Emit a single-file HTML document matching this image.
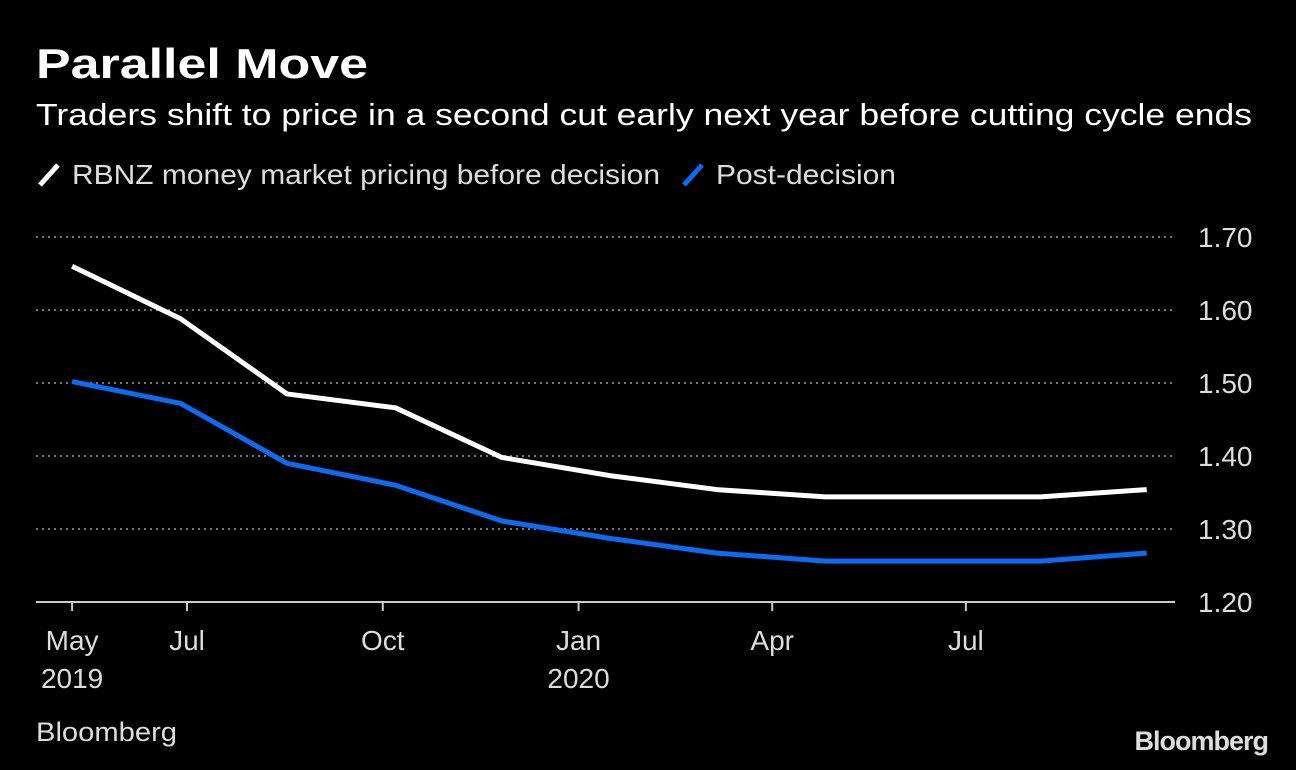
<!DOCTYPE html>
<html><head><meta charset="utf-8"><style>
body{margin:0;background:#000;width:1296px;height:770px;overflow:hidden;font-family:"Liberation Sans",sans-serif;color:#fff}
svg{position:absolute;left:0;top:0}
</style></head><body>
<svg id="c" width="1296" height="770">
<text x="36" y="78" font-size="42" font-weight="bold" fill="#fff" textLength="332" lengthAdjust="spacingAndGlyphs">Parallel Move</text>
<text x="36" y="125" font-size="31" fill="#fff" textLength="1216" lengthAdjust="spacingAndGlyphs">Traders shift to price in a second cut early next year before cutting cycle ends</text>
<g>
<line x1="40" y1="185" x2="58" y2="165" stroke="#fff" stroke-width="5"/>
<text x="72" y="184" font-size="28" fill="#ddd" textLength="588" lengthAdjust="spacingAndGlyphs">RBNZ money market pricing before decision</text>
<line x1="684" y1="185" x2="702" y2="165" stroke="#0b6cf2" stroke-width="5"/>
<text x="716" y="184" font-size="28" fill="#ddd" textLength="180" lengthAdjust="spacingAndGlyphs">Post-decision</text>
</g>
<text x="36" y="741" font-size="27" fill="#ddd" textLength="141" lengthAdjust="spacingAndGlyphs">Bloomberg</text>
<text x="1268" y="750" font-size="27" font-weight="bold" fill="#ddd" text-anchor="end" letter-spacing="-1">Bloomberg</text>
</svg>
<script>
const dates=["2019-05-08","2019-06-28","2019-08-17","2019-10-07","2019-11-26","2020-01-16","2020-03-06","2020-04-26","2020-06-15","2020-08-05","2020-09-24"];
const beforeVals=[1.66,1.588,1.485,1.466,1.398,1.373,1.354,1.344,1.344,1.344,1.354];
const postVals=[1.502,1.472,1.390,1.360,1.311,1.287,1.267,1.256,1.256,1.256,1.267];
const yTicks=[1.2,1.3,1.4,1.5,1.6,1.7];
const xTicks=[["2019-05-08","May","2019"],["2019-07-01","Jul",""],["2019-10-01","Oct",""],["2020-01-01","Jan","2020"],["2020-04-01","Apr",""],["2020-07-01","Jul",""]];
const svg=document.getElementById('c'),NS="http://www.w3.org/2000/svg";
const ref=Date.parse("2019-07-01");
const x=d=>187+(Date.parse(d)-ref)/864e5*2.128;
const y=v=>602-(v-1.2)*730;
function mk(t,a){const e=document.createElementNS(NS,t);for(const k in a)e.setAttribute(k,a[k]);svg.appendChild(e);return e;}
yTicks.forEach(v=>{
 const l=mk('line',{x1:36,x2:1175,y1:y(v),y2:y(v),stroke:v===1.2?'#ccc':'#777','stroke-width':2,'stroke-dasharray':v===1.2?'none':'2,4'});
 
 
 const t=mk('text',{x:1198,y:y(v)+10,'font-size':28,fill:'#ddd'});t.textContent=v.toFixed(2);
 
 
});
xTicks.forEach(([d,m,yr])=>{
 const X=x(d);
 const l=mk('line',{x1:X,x2:X,y1:602,y2:611,stroke:'#ccc','stroke-width':2});
 
 
 const t=mk('text',{x:X,y:650,'font-size':28,fill:'#ddd','text-anchor':'middle'});t.textContent=m;
 
 
 if(yr){const t2=mk('text',{x:X,y:688,'font-size':28,fill:'#ddd','text-anchor':'middle'});t2.textContent=yr;
 
 }
});
function line(vals,col,name){
 const p=mk('polyline',{points:vals.map((v,i)=>x(dates[i])+','+y(v)).join(' '),fill:'none',stroke:col,'stroke-width':5,'stroke-linejoin':'round'});
 
 
}
line(beforeVals,'#fff','series-before-decision');
line(postVals,'#0b6cf2','series-post-decision');
</script>
</body></html>
